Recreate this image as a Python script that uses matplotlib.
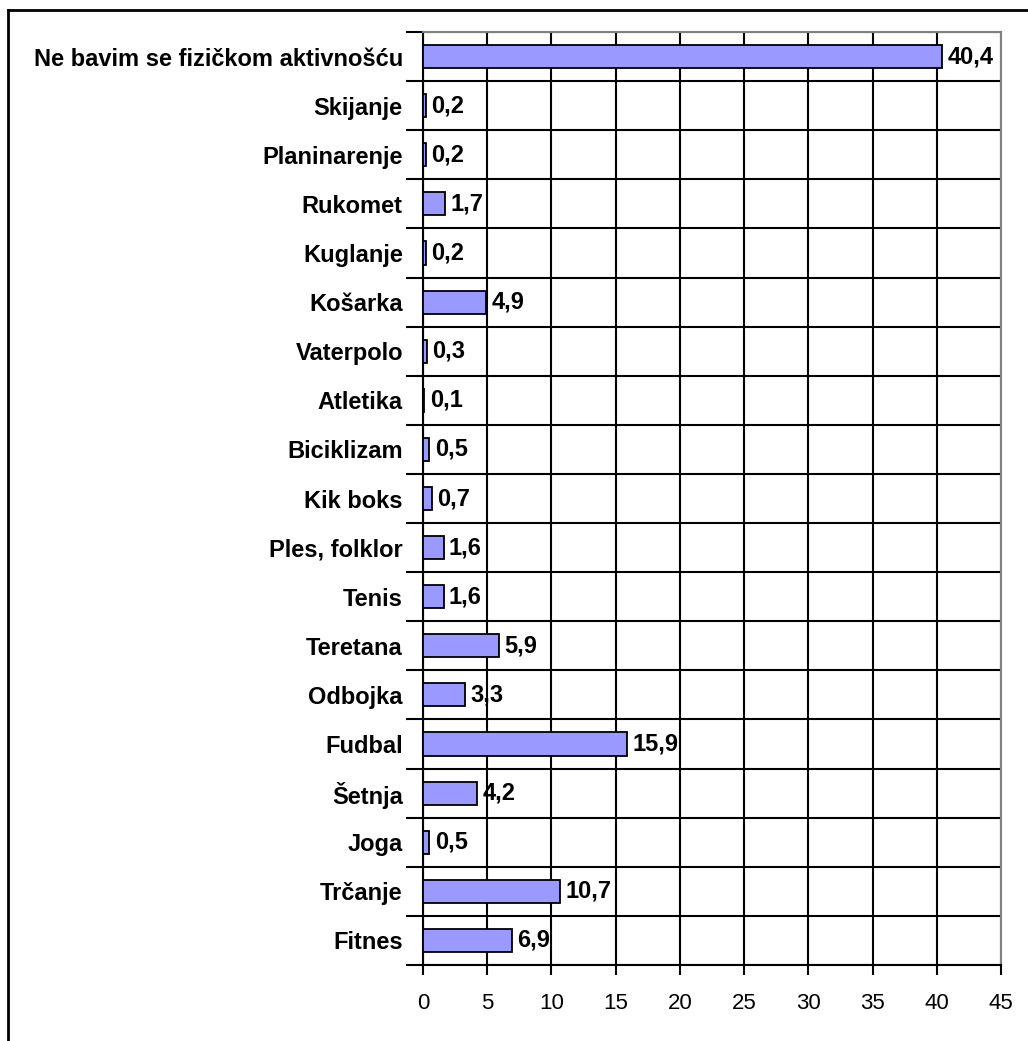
import matplotlib as mpl
mpl.use('Agg')
import matplotlib.pyplot as plt
import numpy as np

plt.rcParams['font.family'] = ['Liberation Sans', 'DejaVu Sans']

# categories listed bottom to top
categories = ['Fitnes', 'Trčanje', 'Joga', 'Šetnja', 'Fudbal', 'Odbojka',
              'Teretana', 'Tenis', 'Ples, folklor', 'Kik boks', 'Biciklizam',
              'Atletika', 'Vaterpolo', 'Košarka', 'Kuglanje', 'Rukomet',
              'Planinarenje', 'Skijanje', 'Ne bavim se fizičkom aktivnošću']
values = [6.9, 10.7, 0.5, 4.2, 15.9, 3.3, 5.9, 1.6, 1.6, 0.7, 0.5,
          0.1, 0.3, 4.9, 0.2, 1.7, 0.2, 0.2, 40.4]
xticks = [0, 5, 10, 15, 20, 25, 30, 35, 40, 45]

fs = 17
lw = 1.5

fig = plt.figure(figsize=(10.28, 10.41), dpi=100)
ax = fig.add_axes([423/1028, 1-965/1041, 578/1028, 933/1041])

n = len(categories)
y = np.arange(n)
ax.barh(y, values, height=0.47, color='#9999FF', edgecolor='black',
        linewidth=1.3, zorder=3)

for yi, v in zip(y, values):
    ax.text(v + 0.42, yi, ('%.1f' % v).replace('.', ','), fontsize=fs,
            fontweight='bold', va='center', ha='left', zorder=4)

ax.set_xlim(0, 45)
ax.set_ylim(-0.5, n - 0.5)

# category boundaries as major ticks, labels on minor ticks at centers
ax.set_yticks(np.arange(-0.5, n, 1.0))
ax.set_yticklabels([])
ax.set_yticks(y, minor=True)
ax.set_yticklabels(categories, minor=True, fontsize=fs, fontweight='bold')
ax.tick_params(axis='y', which='major', length=12, width=lw, direction='out')
ax.tick_params(axis='y', which='minor', length=0, pad=14.5)

ax.set_xticks(xticks)
ax.set_xticklabels([str(t) for t in xticks], fontsize=16)
ax.tick_params(axis='x', length=7, width=lw, pad=13)

ax.grid(True, which='major', color='black', linewidth=lw, zorder=1)
ax.set_axisbelow(True)

ax.spines['left'].set_linewidth(lw)
ax.spines['bottom'].set_linewidth(lw)
ax.spines['top'].set_color('#808080')
ax.spines['right'].set_color('#808080')
ax.spines['top'].set_linewidth(lw)
ax.spines['right'].set_linewidth(lw)

# outer chart frame (top and left edges visible)
fig.add_artist(plt.Line2D([8/1028, 8/1028], [0, 1-10/1041],
                          color='black', linewidth=2))
fig.add_artist(plt.Line2D([8/1028, 1], [1-10/1041, 1-10/1041],
                          color='black', linewidth=2))

plt.savefig('out.png', dpi=100)
